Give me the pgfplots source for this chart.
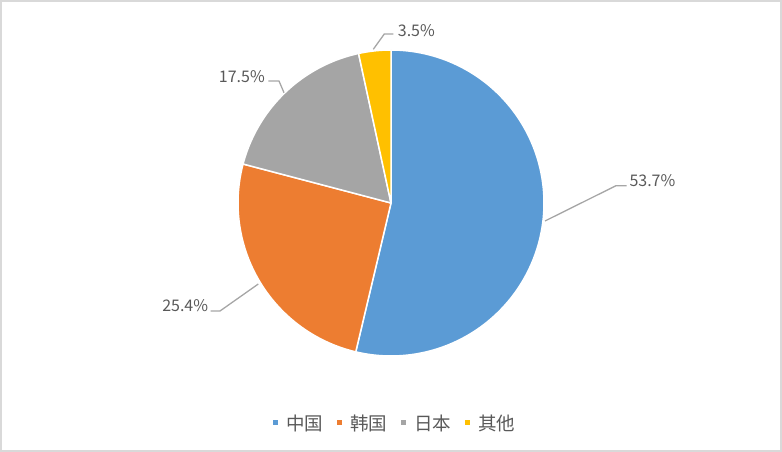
\documentclass[border=0pt]{standalone}
\usepackage{pgfplots}
\pgfplotsset{compat=1.18}
\usepackage{fontspec}
\setmainfont{Noto Sans CJK SC}
\definecolor{cA}{HTML}{5B9BD5}
\definecolor{cB}{HTML}{ED7D31}
\definecolor{cC}{HTML}{A5A5A5}
\definecolor{cD}{HTML}{FFC000}
\definecolor{tx}{HTML}{595959}
\definecolor{ld}{HTML}{A6A6A6}
\definecolor{bd}{HTML}{D9D9D9}
\begin{document}
\begin{tikzpicture}
% shares in percent
\def\pA{53.7}\def\pB{25.4}\def\pC{17.5}\def\pD{3.5}
\pgfmathsetmacro{\eA}{90-3.6*\pA}
\pgfmathsetmacro{\eB}{\eA-3.6*\pB}
\pgfmathsetmacro{\eC}{\eB-3.6*\pC}
\pgfmathsetmacro{\eD}{-270}
\begin{axis}[x=1pt,y=1pt,xmin=-391,xmax=391,ymin=-249,ymax=203,
  hide axis,clip=false,scale only axis,
  legend style={at={(axis cs:4,-220)},anchor=center,draw=none,fill=none,
    legend columns=4,font=\fontsize{18.5}{20}\selectfont,text=tx,
    /tikz/every odd column/.append style={column sep=6pt},
    /tikz/every even column/.append style={column sep=12pt}},
  legend image code/.code={\fill[#1,draw=none] (0pt,-2.5pt) rectangle (5pt,2.5pt);},
]
\draw[color=bd, line width=2pt] (axis cs:-390,-248) rectangle (axis cs:390,202);
\addplot[fill=cA, draw=white, line width=1.5pt, line join=round, domain=\eA:90, samples=120, variable=\t]
  ({153*cos(t)},{153*sin(t)}) -- (axis cs:0,0) -- cycle;
\addlegendentry{中国}
\addplot[fill=cB, draw=white, line width=1.5pt, line join=round, domain=\eB:\eA, samples=80, variable=\t]
  ({153*cos(t)},{153*sin(t)}) -- (axis cs:0,0) -- cycle;
\addlegendentry{韩国}
\addplot[fill=cC, draw=white, line width=1.5pt, line join=round, domain=\eC:\eB, samples=60, variable=\t]
  ({153*cos(t)},{153*sin(t)}) -- (axis cs:0,0) -- cycle;
\addlegendentry{日本}
\addplot[fill=cD, draw=white, line width=1.5pt, line join=round, domain=\eD:\eC, samples=20, variable=\t]
  ({153*cos(t)},{153*sin(t)}) -- (axis cs:0,0) -- cycle;
\addlegendentry{其他}
% leader lines
\draw[ld, line width=1.3pt] (axis cs:154,-18) -- (axis cs:225,17.3) -- (axis cs:235.7,17.3);
\draw[ld, line width=1.3pt] (axis cs:-132.7,-81) -- (axis cs:-171,-108) -- (axis cs:-180.3,-108);
\draw[ld, line width=1.3pt] (axis cs:-107,110.3) -- (axis cs:-112,122) -- (axis cs:-122.7,122);
\draw[ld, line width=1.3pt] (axis cs:-17.7,153.7) -- (axis cs:-6.7,169) -- (axis cs:2.3,169);
% labels
\node[anchor=west, text=tx, inner sep=0pt, font=\fontsize{16}{18}\selectfont] at (axis cs:238.3,22) {53.7\%};
\node[anchor=east, text=tx, inner sep=0pt, font=\fontsize{16}{18}\selectfont] at (axis cs:-182.7,-102.3) {25.4\%};
\node[anchor=east, text=tx, inner sep=0pt, font=\fontsize{16}{18}\selectfont] at (axis cs:-126,126.3) {17.5\%};
\node[anchor=west, text=tx, inner sep=0pt, font=\fontsize{16}{18}\selectfont] at (axis cs:6.7,172.5) {3.5\%};
\end{axis}
\end{tikzpicture}
\end{document}
